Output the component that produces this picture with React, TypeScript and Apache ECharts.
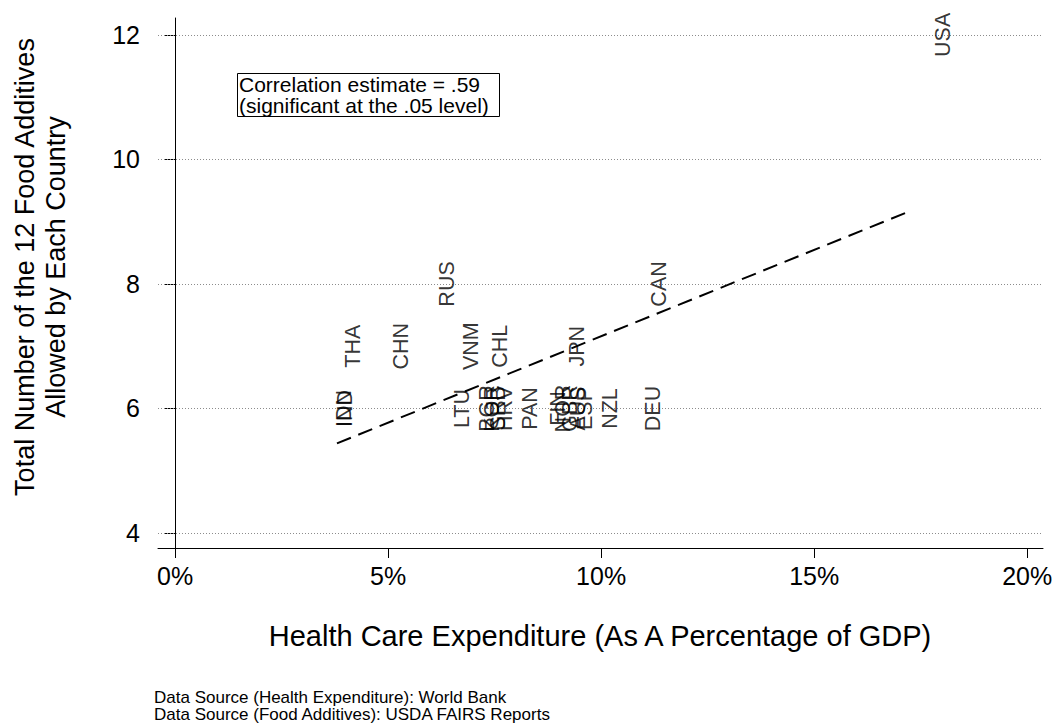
import React, { useEffect, useRef } from "react";
import * as echarts from "echarts";

const countries = ["USA", "CAN", "RUS", "THA", "CHN", "VNM", "CHL", "JPN", "IDN", "IND", "LTU", "BGR", "KOR", "SRB", "HRV", "PAN", "FIN", "NOR", "GBR", "AUS", "ESP", "NZL", "DEU"];
const healthExp = [18.03, 11.36, 6.38, 4.18, 5.31, 6.95, 7.63, 9.44, 3.96, 4.0, 6.73, 7.32, 7.44, 7.58, 7.75, 8.33, 8.99, 9.11, 9.27, 9.46, 9.62, 10.21, 11.22];
const additives = [12, 8, 8, 7, 7, 7, 7, 7, 6, 6, 6, 6, 6, 6, 6, 6, 6, 6, 6, 6, 6, 6, 6];

const trendX = [3.8, 17.14];
const trendY = [5.44, 9.14];

const xTicks = [0, 5, 10, 15, 20];
const yTicks = [4, 6, 8, 10, 12];

const FONT = "'Liberation Sans', Arial, sans-serif";

export default function App() {
  const ref = useRef<HTMLDivElement>(null);
  useEffect(() => {
    if (!ref.current) return;
    const chart = echarts.init(ref.current, null, { renderer: "svg" });
    const option: any = {
      animation: false,
      backgroundColor: "#ffffff",
      textStyle: { fontFamily: FONT },
      grid: { left: 158, right: 13, top: 18, bottom: 179 },
      xAxis: {
        type: "value",
        min: -0.4,
        max: 20.37,
        axisLine: { show: true, lineStyle: { color: "#000", width: 1 } },
        axisTick: { show: true, length: 10, customValues: xTicks, lineStyle: { color: "#000" } },
        axisLabel: {
          customValues: xTicks,
          formatter: (v: number) => v + "%",
          color: "#000",
          fontSize: 25,
          fontFamily: FONT,
          margin: 15,
        },
        splitLine: { show: false },
      },
      yAxis: {
        type: "value",
        min: 3.76,
        max: 12.27,
        axisLine: { show: true, lineStyle: { color: "#000", width: 1 } },
        axisTick: { show: true, length: 10, customValues: yTicks, lineStyle: { color: "#000" } },
        axisLabel: {
          customValues: yTicks,
          color: "#000",
          fontSize: 25,
          fontFamily: FONT,
          margin: 18,
        },
        splitLine: { show: false },
      },
      series: [
        {
          type: "line",
          data: trendX.map((x, i) => [x, trendY[i]]),
          symbol: "none",
          lineStyle: { color: "#000", width: 2, type: [15, 8] },
          silent: true,
          z: 3,
          markLine: {
            silent: true,
            symbol: ["none", "none"],
            label: { show: false },
            lineStyle: { color: "#8c8c8c", width: 1, type: [1, 2] },
            data: yTicks.map((v) => ({ yAxis: v })),
            z: 1,
          },
        },
        {
          type: "scatter",
          symbol: "circle",
          symbolSize: 1,
          itemStyle: { color: "rgba(0,0,0,0)" },
          data: countries.map((c, i) => ({ name: c, value: [healthExp[i], additives[i]] })),
          label: {
            show: true,
            position: "inside",
            rotate: 90,
            formatter: "{b}",
            color: "#000",
            fontSize: 21.5,
            fontFamily: FONT,
          },
          z: 4,
        },
      ],
      graphic: [
        {
          type: "text",
          x: 25,
          y: 267,
          rotation: Math.PI / 2,
          style: { text: "Total Number of the 12 Food Additives", font: `27px ${FONT}`, fill: "#000", textAlign: "center", textVerticalAlign: "middle" },
        },
        {
          type: "text",
          x: 56,
          y: 267,
          rotation: Math.PI / 2,
          style: { text: "Allowed by Each Country", font: `27px ${FONT}`, fill: "#000", textAlign: "center", textVerticalAlign: "middle" },
        },
        {
          type: "text",
          x: 600,
          y: 636,
          style: { text: "Health Care Expenditure (As A Percentage of GDP)", font: `29px ${FONT}`, fill: "#000", textAlign: "center", textVerticalAlign: "middle" },
        },
        {
          type: "rect",
          shape: { x: 237.5, y: 73.5, width: 262, height: 43 },
          style: { fill: "#fff", stroke: "#000", lineWidth: 1 },
          z: 10,
        },
        {
          type: "text",
          x: 239,
          y: 84,
          z: 11,
          style: { text: "Correlation estimate = .59", font: `21px ${FONT}`, fill: "#000", textAlign: "left", textVerticalAlign: "middle" },
        },
        {
          type: "text",
          x: 239,
          y: 105,
          z: 11,
          style: { text: "(significant at the .05 level)", font: `21px ${FONT}`, fill: "#000", textAlign: "left", textVerticalAlign: "middle" },
        },
        {
          type: "text",
          x: 154,
          y: 697,
          style: { text: "Data Source (Health Expenditure): World Bank", font: `17px ${FONT}`, fill: "#000", textAlign: "left", textVerticalAlign: "middle" },
        },
        {
          type: "text",
          x: 154,
          y: 714,
          style: { text: "Data Source (Food Additives): USDA FAIRS Reports", font: `17px ${FONT}`, fill: "#000", textAlign: "left", textVerticalAlign: "middle" },
        },
      ],
    };
    chart.setOption(option);
    return () => chart.dispose();
  }, []);
  return <div ref={ref} style={{ position: "absolute", left: 0, top: 0, width: 1056, height: 727 }} />;
}
